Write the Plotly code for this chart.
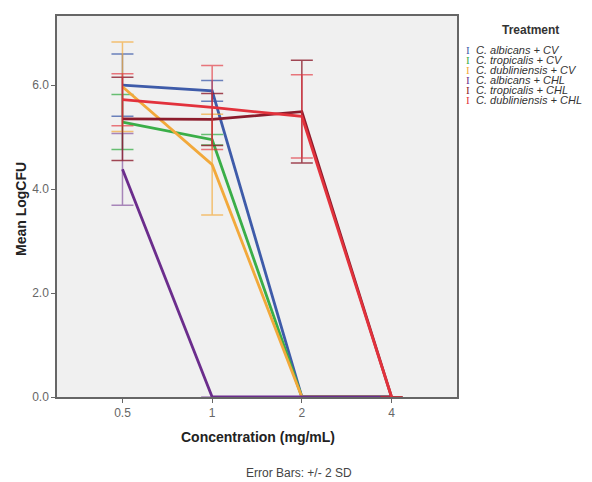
import plotly.graph_objects as go

concentrations = ["0.5", "1", "2", "4"]
series_names = ["C. albicans + CV", "C. tropicalis + CV", "C. dubliniensis + CV",
                "C. albicans + CHL", "C. tropicalis + CHL", "C. dubliniensis + CHL"]
albicans_cv = [6.00, 5.89, 0.0, 0.0]
tropicalis_cv = [5.29, 4.95, 0.0, 0.0]
dubliniensis_cv = [5.97, 4.47, 0.0, 0.0]
albicans_chl = [4.38, 0.0, 0.0, 0.0]
tropicalis_chl = [5.35, 5.34, 5.49, 0.0]
dubliniensis_chl = [5.72, 5.57, 5.40, 0.0]

err_albicans_cv = [0.60, 0.20, None, None]
err_tropicalis_cv = [0.53, 0.10, None, None]
err_dubliniensis_cv = [0.86, 0.97, None, None]
err_albicans_chl = [0.69, None, None, None]
err_tropicalis_chl = [0.80, 0.50, 0.99, None]
err_dubliniensis_chl = [0.50, 0.81, 0.80, None]

values = [albicans_cv, tropicalis_cv, dubliniensis_cv, albicans_chl, tropicalis_chl, dubliniensis_chl]
errors = [err_albicans_cv, err_tropicalis_cv, err_dubliniensis_cv, err_albicans_chl,
          err_tropicalis_chl, err_dubliniensis_chl]
colors = ["#3e5ba9", "#3aae48", "#f2a93b", "#6b2d8c", "#8c1c2c", "#e2323c"]
err_colors = ["rgba(62,91,169,0.75)", "rgba(58,174,72,0.75)", "rgba(242,169,59,0.7)",
              "rgba(107,45,140,0.55)", "rgba(140,28,44,0.8)", "rgba(226,50,60,0.65)"]

fig = go.Figure()
for name, v, e, c, ec in zip(series_names, values, errors, colors, err_colors):
    fig.add_trace(go.Scatter(
        x=concentrations, y=v, name=name, mode="lines",
        line=dict(color=c, width=2.8),
        error_y=dict(type="data", array=e, symmetric=True, color=ec, thickness=1.5, width=11),
        cliponaxis=False,
    ))

# page has an 8px body margin; work in reference pixel coords shifted by OFF
OFF = 8
W, H = 592 - OFF, 482 - OFF
L, T = 57 - OFF, 14 - OFF
PR, PB = 457 - OFF, 397 - OFF
R, B = W - PR, H - PB
pw, ph = PR - L, PB - T

def px(xp):
    return (xp - OFF - L) / pw

def py(yp):
    return (PB - (yp - OFF)) / ph

def ann(text, x, y, size, color, family="Liberation Sans", xanchor="center", angle=0):
    return dict(text=text, x=px(x), y=py(y), xref="paper", yref="paper", xanchor=xanchor,
                yanchor="middle", showarrow=False, textangle=angle,
                font=dict(size=size, color=color, family=family))

annotations = [
    ann("<b>Concentration (mg/mL)</b>", 258, 437, 14, "#222"),
    ann("<b>Mean LogCFU</b>", 21, 208, 14, "#222", angle=-90),
    ann("Error Bars: +/- 2 SD", 299, 473, 12, "#444"),
    ann("<b>Treatment</b>", 530, 28, 12, "#333"),
]
for i, (name, c) in enumerate(zip(series_names, colors)):
    yy = 48.3 + 10 * i
    annotations.append(ann("I", 468, yy, 11, c, family="Liberation Serif"))
    annotations.append(ann("<i>" + name + "</i>", 474, yy, 11, "#333", xanchor="left"))

fig.update_layout(
    width=W, height=H,
    margin=dict(l=L, r=R, t=T, b=B),
    paper_bgcolor="white", plot_bgcolor="#f0f0f0",
    showlegend=False,
    annotations=annotations,
    font=dict(family="Liberation Sans", color="#555", size=12),
)
fig.update_xaxes(type="category", range=[-0.73, 3.73], showgrid=False, zeroline=False,
                 showline=True, linecolor="#666", linewidth=1.5, mirror=True,
                 ticks="outside", ticklen=4, tickcolor="#666", layer="below traces",
                 tickfont=dict(size=12, color="#666"))
fig.update_yaxes(range=[0, 7.33], tickvals=[0, 2, 4, 6], tickformat=".1f", showgrid=False,
                 zeroline=False, showline=True, linecolor="#666", linewidth=1.5, mirror=True,
                 ticks="outside", ticklen=4, tickcolor="#666", layer="below traces",
                 tickfont=dict(size=12, color="#666"))

fig.write_html("out.html")
